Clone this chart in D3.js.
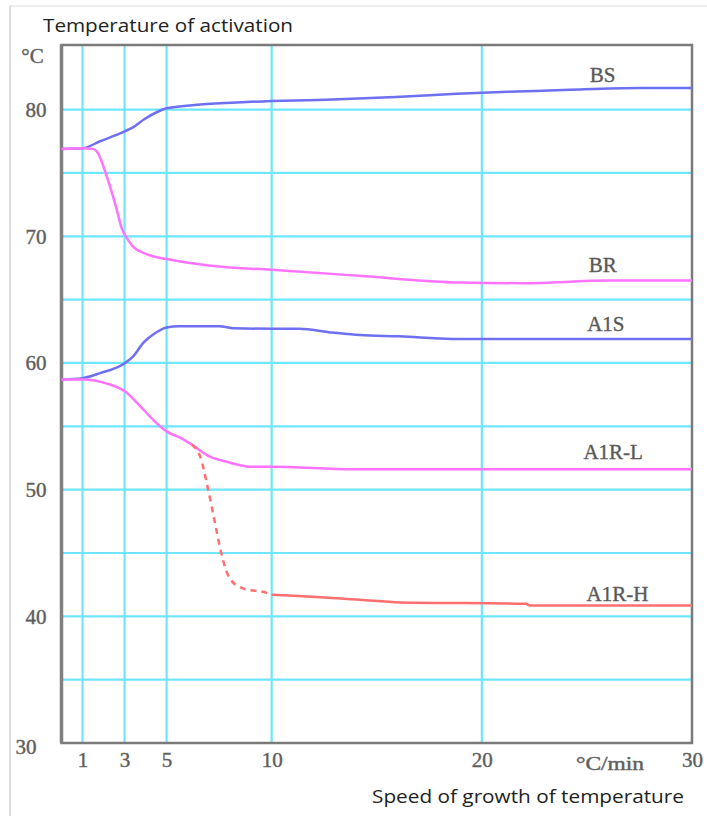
<!DOCTYPE html>
<html>
<head>
<meta charset="utf-8">
<script src="https://cdn.jsdelivr.net/npm/d3@7"></script>
<style>
	body { margin: 0; background: #fff; }
	.tick-label { font-family: "Liberation Serif", "DejaVu Serif", serif; font-size: 21px; fill: #5a5a5a; stroke: #6a6a6a; stroke-width: 0.45px; }
	.curve-label { font-family: "Liberation Serif", "DejaVu Serif", serif; font-size: 21px; fill: #555; stroke: #666; stroke-width: 0.4px; }
	.axis-title { font-family: "Open Sans", "Noto Sans", sans-serif; font-size: 19px; fill: #222; }
</style>
</head>
<body>
<svg id="viz" width="707" height="816"></svg>
<script>

// data
const speedBS = [0, 1, 1.84, 3.03, 3.4, 3.9, 4.6, 5, 6.6, 8.8, 12.9, 15.9, 18.8, 22.1, 24.2, 27.5, 30];
const tempBS  = [76.9, 76.95, 77.5, 78.3, 78.6, 79.2, 79.85, 80.1, 80.4, 80.6, 80.8, 81.0, 81.25, 81.45, 81.57, 81.7, 81.7];

const speedBR = [0, 1, 1.5, 1.68, 2.16, 2.63, 2.87, 3.1, 3.4, 4.2, 5, 7, 10, 14, 19, 22, 26, 30];
const tempBR  = [76.9, 76.95, 76.9, 76.7, 74.7, 72.1, 70.6, 69.9, 69.2, 68.5, 68.2, 67.7, 67.35, 66.9, 66.35, 66.3, 66.5, 66.5];

const speedA1S = [0, 1, 1.84, 3.03, 3.4, 3.9, 4.5, 5, 5.6, 7.5, 8.2, 10, 11.3, 12.9, 14.2, 16.1, 18.6, 30];
const tempA1S  = [58.7, 58.8, 59.2, 60.0, 60.5, 61.6, 62.4, 62.8, 62.9, 62.9, 62.75, 62.7, 62.7, 62.4, 62.2, 62.1, 61.9, 61.9];

const speedA1RL = [0, 1, 2.3, 3.03, 3.74, 4.37, 5, 5.64, 6.2, 7.06, 7.86, 9.1, 10, 13.9, 30];
const tempA1RL  = [58.7, 58.7, 58.3, 57.75, 56.6, 55.5, 54.6, 54.1, 53.55, 52.6, 52.2, 51.8, 51.8, 51.6, 51.6];

// A1R-H: dashed part (transition) and solid part
const speedA1RHdash = [6.2, 6.6, 6.98, 7.3, 7.6, 8.0, 8.65, 9.76, 10];
const tempA1RHdash  = [53.55, 52.6, 50.0, 47.4, 45.0, 43.0, 42.2, 41.85, 41.7];
const speedA1RH = [10, 11.3, 14.2, 16.1, 22.1, 22.3, 30];
const tempA1RH  = [41.7, 41.6, 41.3, 41.1, 41.0, 40.85, 40.85];

const curveNames = ["BS", "BR", "A1S", "A1R-L", "A1R-H"];
const labelSpeed = [25.75, 25.75, 25.9, 26.25, 26.45];
const labelTemp  = [82.2, 67.2, 62.5, 52.45, 41.2];

const xTicks = [1, 3, 5, 10, 20, 30];
const xGrid = [1, 3, 5, 10, 20];
const yTicks = [30, 40, 50, 60, 70, 80];
const yGrid = [35, 40, 45, 50, 55, 60, 65, 70, 75, 80];


let drawEverything = function() {

	const margin = { top: 45, right: 15, bottom: 73, left: 61.5 };

	let svg = d3.select("body").select("svg#viz");
	let width = +svg.attr("width");
	let height = +svg.attr("height");
	let plotWidth = width - margin.left - margin.right;
	let plotHeight = height - margin.top - margin.bottom;

	// thin page border (top and left only)
	svg.append("line").attr("x1", 10).attr("x2", width).attr("y1", 6).attr("y2", 6)
		.attr("stroke", "#dcdcdc").attr("stroke-width", 1.2);
	svg.append("line").attr("x1", 10).attr("x2", 10).attr("y1", 6).attr("y2", height)
		.attr("stroke", "#c8c8c8").attr("stroke-width", 1.2);

	let xScale = d3.scaleLinear().domain([0, 30]).range([0, plotWidth]);
	let yScale = d3.scaleLinear().domain([30, 85.1]).range([plotHeight, 0]);

	let plot = svg.append("g").attr("id", "plot")
		.attr("transform", `translate(${margin.left}, ${margin.top})`);

	// grid
	plot.append("g").selectAll("line")
		.data(yGrid).enter().append("line")
		.attr("x1", 0).attr("x2", plotWidth)
		.attr("y1", d => yScale(d)).attr("y2", d => yScale(d))
		.attr("stroke", "#6fe6fb").attr("stroke-width", 2.2);

	plot.append("g").selectAll("line")
		.data(xGrid).enter().append("line")
		.attr("x1", d => xScale(d)).attr("x2", d => xScale(d))
		.attr("y1", 0).attr("y2", plotHeight)
		.attr("stroke", "#6fe6fb").attr("stroke-width", 2.2);

	// frame
	plot.append("rect")
		.attr("x", 0).attr("y", 0)
		.attr("width", plotWidth).attr("height", plotHeight)
		.attr("fill", "none").attr("stroke", "#7a7a7a").attr("stroke-width", 2.5);
	plot.append("line")
		.attr("x1", 0).attr("x2", 0).attr("y1", 0).attr("y2", plotHeight)
		.attr("stroke", "#808080").attr("stroke-width", 3.5);

	// axes (labels only)
	let xAxis = d3.axisBottom(xScale).tickValues(xTicks).tickSize(0).tickPadding(9);
	let xGroup = plot.append("g").attr("id", "x-axis")
		.attr("transform", "translate(0," + plotHeight + ")")
		.call(xAxis);
	xGroup.select(".domain").remove();
	xGroup.selectAll("text").attr("class", "tick-label").attr("font-family", null).attr("font-size", null);

	let yAxis = d3.axisLeft(yScale).tickValues(yTicks).tickSize(0).tickPadding(15);
	let yGroup = plot.append("g").attr("id", "y-axis").call(yAxis);
	yGroup.select(".domain").remove();
	yGroup.selectAll("text").attr("class", "tick-label").attr("font-family", null).attr("font-size", null);
	// the lowest label sits lower-left in the original
	yGroup.selectAll(".tick").filter(d => d == 30).select("text")
		.attr("x", -25).attr("dy", "0.5em");

	// unit labels
	plot.append("text").attr("class", "tick-label")
		.attr("x", -29).attr("y", 18)
		.attr("text-anchor", "middle")
		.text("°C");
	plot.append("text").attr("class", "tick-label")
		.attr("x", xScale(26.1)).attr("y", plotHeight + 27)
		.attr("text-anchor", "middle")
		.attr("textLength", 68).attr("lengthAdjust", "spacingAndGlyphs")
		.style("font-size", "19px")
		.text("°C/min");

	// titles
	svg.append("text").attr("class", "axis-title")
		.attr("x", 43).attr("y", 32)
		.attr("textLength", 250).attr("lengthAdjust", "spacingAndGlyphs")
		.text("Temperature of activation");
	svg.append("text").attr("class", "axis-title")
		.attr("x", 372).attr("y", 803)
		.attr("textLength", 312).attr("lengthAdjust", "spacingAndGlyphs")
		.text("Speed of growth of temperature");

	// curves
	let line = d3.line()
		.x(d => xScale(d[0]))
		.y(d => yScale(d[1]))
		.curve(d3.curveMonotoneX);

	let series = [
		{ xs: speedBS,       ys: tempBS,       color: "#6f6ff2", dash: null },
		{ xs: speedA1S,      ys: tempA1S,      color: "#6f6ff2", dash: null },
		{ xs: speedBR,       ys: tempBR,       color: "#ff73ff", dash: null },
		{ xs: speedA1RL,     ys: tempA1RL,     color: "#ff73ff", dash: null },
		{ xs: speedA1RHdash, ys: tempA1RHdash, color: "#ff6f6f", dash: "6,5" },
		{ xs: speedA1RH,     ys: tempA1RH,     color: "#ff6f6f", dash: null }
	];

	plot.append("g").selectAll("path")
		.data(series).enter().append("path")
		.attr("d", s => line(d3.zip(s.xs, s.ys)))
		.attr("fill", "none")
		.attr("stroke", s => s.color)
		.attr("stroke-width", 2.5)
		.attr("stroke-dasharray", s => s.dash);

	// curve names
	plot.append("g").selectAll("text")
		.data(curveNames).enter().append("text")
		.attr("class", "curve-label")
		.attr("x", (d, i) => xScale(labelSpeed[i]))
		.attr("y", (d, i) => yScale(labelTemp[i]))
		.attr("text-anchor", "middle")
		.text(d => d);
};

drawEverything();
</script>
</body>
</html>
